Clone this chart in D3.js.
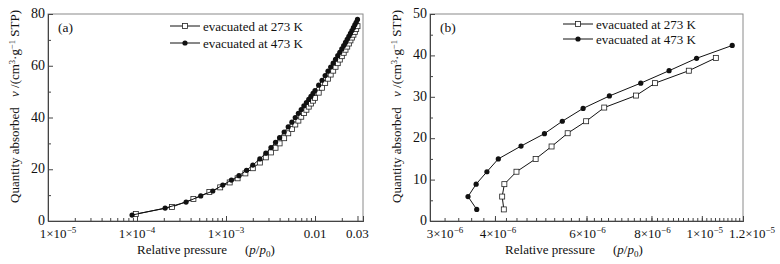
<!DOCTYPE html>
<html>
<head>
<meta charset="utf-8">
<script src="https://cdn.jsdelivr.net/npm/d3@7"></script>
<style>
    body { margin: 0; background: #fff; }
    svg text { font-family: "Liberation Serif", "Times New Roman", serif; fill: #111; }
</style>
</head>
<body>
<div id="chart"></div>
<script>
// ---- panel (a) data ----
const pA273 = [9.7e-5, 2.47e-4, 4.3e-4, 6.5e-4, 8.6e-4, 1.1e-3, 1.35e-3, 1.65e-3, 2.0e-3, 2.4e-3, 2.8e-3, 3.2e-3, 3.6e-3,
    4.0e-3, 4.5e-3, 5.0e-3, 5.5e-3, 6.0e-3, 6.5e-3, 7.0e-3, 7.5e-3, 8.0e-3, 8.5e-3, 9.0e-3, 9.5e-3, 0.010, 0.011, 0.012,
    0.013, 0.014, 0.015, 0.016, 0.017, 0.018, 0.019, 0.020, 0.021, 0.022, 0.023, 0.024, 0.025, 0.026, 0.027, 0.028, 0.029, 0.030];
const vA273 = [2.7, 5.4, 8.5, 11.2, 13.0, 14.9, 16.5, 18.4, 20.4, 22.6, 24.6, 26.5, 28.3,
    30.0, 32.0, 33.9, 35.6, 37.3, 38.8, 40.3, 41.7, 43.0, 44.2, 45.4, 46.5, 47.6, 49.6, 51.5,
    53.3, 55.0, 56.6, 58.1, 59.6, 61.0, 62.4, 63.7, 65.0, 66.2, 67.4, 68.6, 69.8, 70.9, 72.0, 73.1, 74.2, 75.3];

const pA473 = [8.8e-5, 2.07e-4, 3.56e-4, 5.2e-4, 7.1e-4, 9.2e-4, 1.15e-3, 1.4e-3, 1.7e-3, 2.0e-3, 2.4e-3, 2.8e-3, 3.2e-3,
    3.6e-3, 4.0e-3, 4.5e-3, 5.0e-3, 5.5e-3, 6.0e-3, 6.5e-3, 7.0e-3, 7.5e-3, 8.0e-3, 8.5e-3, 9.0e-3, 9.5e-3, 0.010, 0.011,
    0.012, 0.013, 0.014, 0.015, 0.016, 0.017, 0.018, 0.019, 0.020, 0.021, 0.022, 0.023, 0.024, 0.025, 0.026, 0.027, 0.028, 0.029, 0.030];
const vA473 = [2.3, 5.0, 7.3, 9.7, 11.6, 13.9, 15.8, 17.5, 19.6, 21.6, 24.0, 26.2, 28.4,
    30.4, 32.2, 34.4, 36.4, 38.2, 40.0, 41.6, 43.1, 44.5, 45.8, 47.0, 48.2, 49.3, 50.4, 52.5,
    54.4, 56.2, 57.9, 59.5, 61.0, 62.5, 63.9, 65.2, 66.5, 67.8, 69.0, 70.2, 71.4, 72.5, 73.6, 74.7, 75.8, 76.8, 77.9];

// ---- panel (b) data ----
const pB273 = [4.16e-6, 4.13e-6, 4.17e-6, 4.40e-6, 4.79e-6, 5.14e-6, 5.52e-6, 5.99e-6, 6.49e-6, 7.47e-6, 8.13e-6, 9.44e-6, 1.064e-5];
const vB273 = [2.8, 5.9, 8.9, 11.9, 15.0, 18.0, 21.2, 24.1, 27.4, 30.3, 33.3, 36.3, 39.4];

const pB473 = [3.69e-6, 3.55e-6, 3.68e-6, 3.86e-6, 4.06e-6, 4.49e-6, 4.98e-6, 5.39e-6, 5.91e-6, 6.64e-6, 7.63e-6, 8.65e-6, 9.77e-6, 1.144e-5];
const vB473 = [2.8, 5.9, 8.9, 11.9, 15.0, 18.1, 21.1, 24.1, 27.2, 30.2, 33.3, 36.3, 39.3, 42.4];

// ---- ticks ----
const xTicksA = [1e-5, 1e-4, 1e-3, 0.01, 0.03];
const xLabelsA = [["1×10", "−5"], ["1×10", "−4"], ["1×10", "−3"], ["0.01", ""], ["0.03", ""]];
const xTicksB = [3e-6, 4e-6, 6e-6, 8e-6, 1e-5, 1.2e-5];
const xLabelsB = [["3×10", "−6"], ["4×10", "−6"], ["6×10", "−6"], ["8×10", "−6"], ["1×10", "−5"], ["1.2×10", "−5"]];
const seriesNames = ["evacuated at 273 K", "evacuated at 473 K"];

let minorA = [];
[1e-5, 1e-4, 1e-3].forEach(d => d3.range(2, 10).forEach(k => minorA.push(k * d)));
minorA.push(0.02);
let minorB = d3.range(32, 120, 2).map(k => k * 1e-7);

let svg = d3.select("#chart").append("svg")
    .attr("width", 780)
    .attr("height", 264);

function drawPanel(cfg) {
    let x = d3.scaleLog().domain(cfg.xDomain).range([cfg.left, cfg.right]);
    let y = d3.scaleLinear().domain([0, cfg.yMax]).range([cfg.bottom, cfg.top]);
    let g = svg.append("g");

    // frame
    g.append("rect")
        .attr("x", cfg.left).attr("y", cfg.top)
        .attr("width", cfg.right - cfg.left).attr("height", cfg.bottom - cfg.top)
        .attr("fill", "none").attr("stroke", "#8a8a8a").attr("stroke-width", 1);

    // axes, ticks pointing inward
    let xMinor = g.append("g").attr("transform", `translate(0,${cfg.bottom})`)
        .call(d3.axisBottom(x).tickValues(cfg.xMinor).tickSize(-3).tickFormat(""));
    let xMajor = g.append("g").attr("transform", `translate(0,${cfg.bottom})`)
        .call(d3.axisBottom(x).tickValues(cfg.xTicks).tickSize(-5).tickFormat(""));
    let yMinor = g.append("g").attr("transform", `translate(${cfg.left},0)`)
        .call(d3.axisLeft(y).tickValues(cfg.yMinor).tickSize(-3).tickFormat(""));
    let yMajor = g.append("g").attr("transform", `translate(${cfg.left},0)`)
        .call(d3.axisLeft(y).tickValues(cfg.yTicks).tickSize(-5).tickFormat(""));
    [xMinor, xMajor, yMinor, yMajor].forEach(a => {
        a.selectAll("path").attr("stroke", "#444").attr("stroke-width", 1);
        a.selectAll("line").attr("stroke", "#444");
    });

    // x tick labels with superscripts
    cfg.xTicks.forEach((t, i) => {
        let lab = g.append("text")
            .attr("x", x(t) + (cfg.xLabelShift[i] || 0))
            .attr("y", cfg.bottom + 17)
            .attr("text-anchor", "middle")
            .style("font-size", "13px");
        lab.append("tspan").text(cfg.xLabels[i][0]);
        if (cfg.xLabels[i][1]) {
            lab.append("tspan").attr("dy", -5).style("font-size", "9px").text(cfg.xLabels[i][1]);
        }
    });

    // y tick labels
    cfg.yTicks.forEach(t => {
        g.append("text")
            .attr("x", cfg.left - 3)
            .attr("y", y(t) + 4)
            .attr("text-anchor", "end")
            .style("font-size", "14px")
            .text(t);
    });

    // axis titles
    g.append("text")
        .attr("x", cfg.titleX)
        .attr("y", cfg.bottom + 33)
        .attr("text-anchor", "end")
        .style("font-size", "13px")
        .text("Relative pressure");
    let pp = g.append("text")
        .attr("x", cfg.titleX + 18)
        .attr("y", cfg.bottom + 33)
        .style("font-size", "13px");
    pp.append("tspan").text("(");
    pp.append("tspan").style("font-style", "italic").text("p");
    pp.append("tspan").text("/");
    pp.append("tspan").style("font-style", "italic").text("p");
    pp.append("tspan").attr("dy", 3).style("font-size", "9px").text("0");
    pp.append("tspan").attr("dy", -3).text(")");

    let yl = g.append("g").attr("transform", `translate(${cfg.yTitleX},0) rotate(-90)`);
    yl.append("text")
        .attr("x", -203).attr("y", 0)
        .style("font-size", "13px")
        .text("Quantity absorbed");
    let yl2 = yl.append("text")
        .attr("x", -10).attr("y", 0)
        .attr("text-anchor", "end")
        .style("font-size", "13px");
    yl2.append("tspan").style("font-style", "italic").text("v");
    yl2.append("tspan").text(" /(cm");
    yl2.append("tspan").attr("dy", -4).style("font-size", "8.5px").text("3");
    yl2.append("tspan").attr("dy", 4).text("·g");
    yl2.append("tspan").attr("dy", -4).style("font-size", "8.5px").text("−1");
    yl2.append("tspan").attr("dy", 4).text(" STP)");

    // panel tag
    g.append("text")
        .attr("x", cfg.left + 10)
        .attr("y", cfg.top + 18)
        .style("font-size", "13.5px")
        .text(cfg.tag);

    let line = d3.line()
        .x(d => x(d[0]))
        .y(d => y(d[1]));

    let d273 = cfg.p273.map((p, i) => [p, cfg.v273[i]]);
    let d473 = cfg.p473.map((p, i) => [p, cfg.v473[i]]);

    g.append("path").attr("d", line(d273))
        .attr("fill", "none").attr("stroke", "#111").attr("stroke-width", 1);
    g.selectAll(".sq").data(d273).enter().append("rect")
        .attr("class", "sq")
        .attr("x", d => x(d[0]) - 2.5)
        .attr("y", d => y(d[1]) - 2.5)
        .attr("width", 5).attr("height", 5)
        .attr("fill", "#fff").attr("stroke", "#222").attr("stroke-width", 0.8);

    g.append("path").attr("d", line(d473))
        .attr("fill", "none").attr("stroke", "#111").attr("stroke-width", 1);
    g.selectAll(".dot").data(d473).enter().append("circle")
        .attr("class", "dot")
        .attr("cx", d => x(d[0]))
        .attr("cy", d => y(d[1]))
        .attr("r", 2.6)
        .attr("fill", "#111");

    // legend
    cfg.legendY.forEach((ly, i) => {
        g.append("line")
            .attr("x1", cfg.legendX).attr("x2", cfg.legendX + 30)
            .attr("y1", ly).attr("y2", ly)
            .attr("stroke", "#111").attr("stroke-width", 1);
        if (i == 0) {
            g.append("rect")
                .attr("x", cfg.legendX + 12.5).attr("y", ly - 2.5)
                .attr("width", 5).attr("height", 5)
                .attr("fill", "#fff").attr("stroke", "#222").attr("stroke-width", 0.8);
        } else {
            g.append("circle")
                .attr("cx", cfg.legendX + 15).attr("cy", ly).attr("r", 2.6)
                .attr("fill", "#111");
        }
        g.append("text")
            .attr("x", cfg.legendX + 33)
            .attr("y", ly + 4.5)
            .style("font-size", "13px")
            .text(seriesNames[i]);
    });
}

drawPanel({
    tag: "(a)",
    left: 48, right: 363, top: 14, bottom: 221,
    xDomain: [1e-5, 0.0346], yMax: 80,
    xTicks: xTicksA, xLabels: xLabelsA, xMinor: minorA, xLabelShift: [10],
    yTicks: [0, 20, 40, 60, 80], yMinor: [10, 30, 50, 70],
    titleX: 227, yTitleX: 19,
    legendX: 170, legendY: [26, 43],
    p273: pA273, v273: vA273, p473: pA473, v473: vA473
});

drawPanel({
    tag: "(b)",
    left: 430, right: 743, top: 14, bottom: 221,
    xDomain: [3e-6, 1.2e-5], yMax: 50,
    xTicks: xTicksB, xLabels: xLabelsB, xMinor: minorB, xLabelShift: [15, 3, 1, 1, 3, 9],
    yTicks: [0, 10, 20, 30, 40, 50], yMinor: [5, 15, 25, 35, 45],
    titleX: 595, yTitleX: 401,
    legendX: 563, legendY: [24, 39],
    p273: pB273, v273: vB273, p473: pB473, v473: vB473
});
</script>
</body>
</html>
